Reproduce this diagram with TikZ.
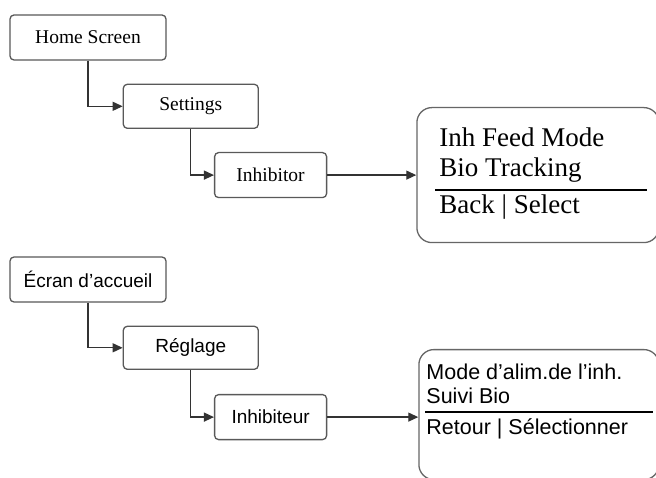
\documentclass[tikz,border=0pt]{standalone}
\usepackage{fontspec}
\setmainfont{Liberation Serif}
\newfontfamily\arialfont{Liberation Sans}
\usetikzlibrary{arrows.meta, positioning, calc}

\begin{document}
\begin{tikzpicture}[x=1pt, y=-1pt]
  \tikzstyle{menubox} = [rectangle, rounded corners=4pt, minimum width=156pt, minimum height=45pt, text centered, inner sep=0pt, draw=black!65, line width=1.3pt, fill=white]
  \tikzstyle{screen} = [rectangle, rounded corners=15pt, inner sep=0pt, draw=black!60, line width=1.3pt, fill=white]
  \tikzstyle{serifsmall} = [font=\fontsize{19.5}{22}\selectfont]
  \tikzstyle{sanssmall} = [font=\arialfont\fontsize{19}{22}\selectfont]
  \tikzstyle{lcdserif} = [anchor=base west, inner sep=0pt, font=\fontsize{27}{30}\selectfont]
  \tikzstyle{lcdsans} = [anchor=base west, inner sep=0pt, font=\arialfont\fontsize{21.5}{24}\selectfont]
  \tikzstyle{arrow} = [line width=1.3pt, black!80, -{Triangle[length=10pt, width=9pt]}]
  \useasboundingbox [fill=white] (0,0) rectangle (656,478);
  % english menu
  \node (home) [menubox, serifsmall] at (88,37.5) {Home Screen};
  \node (settings) [menubox, serifsmall, minimum width=135pt, minimum height=44pt, below right=23pt and -44pt of home] {Settings};
  \node (inhibitor) [menubox, serifsmall, minimum width=112pt, below right=23pt and -45pt of settings] {Inhibitor};
  \node (screen) [screen, minimum width=242pt, minimum height=135pt, right=89pt of inhibitor] {};
  \node (feedmode) [lcdserif] at ($(screen.north west)+(23,40)$) {Inh Feed Mode};
  \node (biotrack) [lcdserif] at ($(screen.north west)+(23,70)$) {Bio Tracking};
  \node (backsel) [lcdserif] at ($(screen.north west)+(23,107)$) {Back | Select};
  \draw [line width=2.5pt] ($(screen.north west)+(19,83)$) -- ($(screen.north east)+(-13,83)$);
  \draw [arrow] (home.south) |- (settings.west);
  \draw [arrow] (settings.south) |- (inhibitor.west);
  \draw [arrow] (inhibitor.east) -- (screen.west);
  % french menu
  \node (ecran) [menubox, sanssmall] at (88,279.5) {Écran d’accueil};
  \node (reglage) [menubox, sanssmall, minimum width=135pt, minimum height=43pt, below right=23pt and -44pt of ecran] {Réglage};
  \node (inhibiteur) [menubox, sanssmall, minimum width=112pt, below right=24pt and -45pt of reglage] {Inhibiteur};
  \node (ecranlcd) [screen, minimum width=240pt, minimum height=130pt, right=91pt of inhibiteur, yshift=2.5pt] {};
  \node (modealim) [lcdsans] at ($(ecranlcd.north west)+(8,31)$) {Mode d’alim.de l’inh.};
  \node (suivibio) [lcdsans] at ($(ecranlcd.north west)+(8,55)$) {Suivi Bio};
  \node (retoursel) [lcdsans] at ($(ecranlcd.north west)+(8,86)$) {Retour | Sélectionner};
  \draw [line width=2pt] ($(ecranlcd.north west)+(7,63)$) -- ($(ecranlcd.north east)+(-7,63)$);
  \draw [arrow] (ecran.south) |- (reglage.west);
  \draw [arrow] (reglage.south) |- (inhibiteur.west);
  \draw [arrow] (inhibiteur.east) -- (inhibiteur.east -| ecranlcd.west);
\end{tikzpicture}
\end{document}
